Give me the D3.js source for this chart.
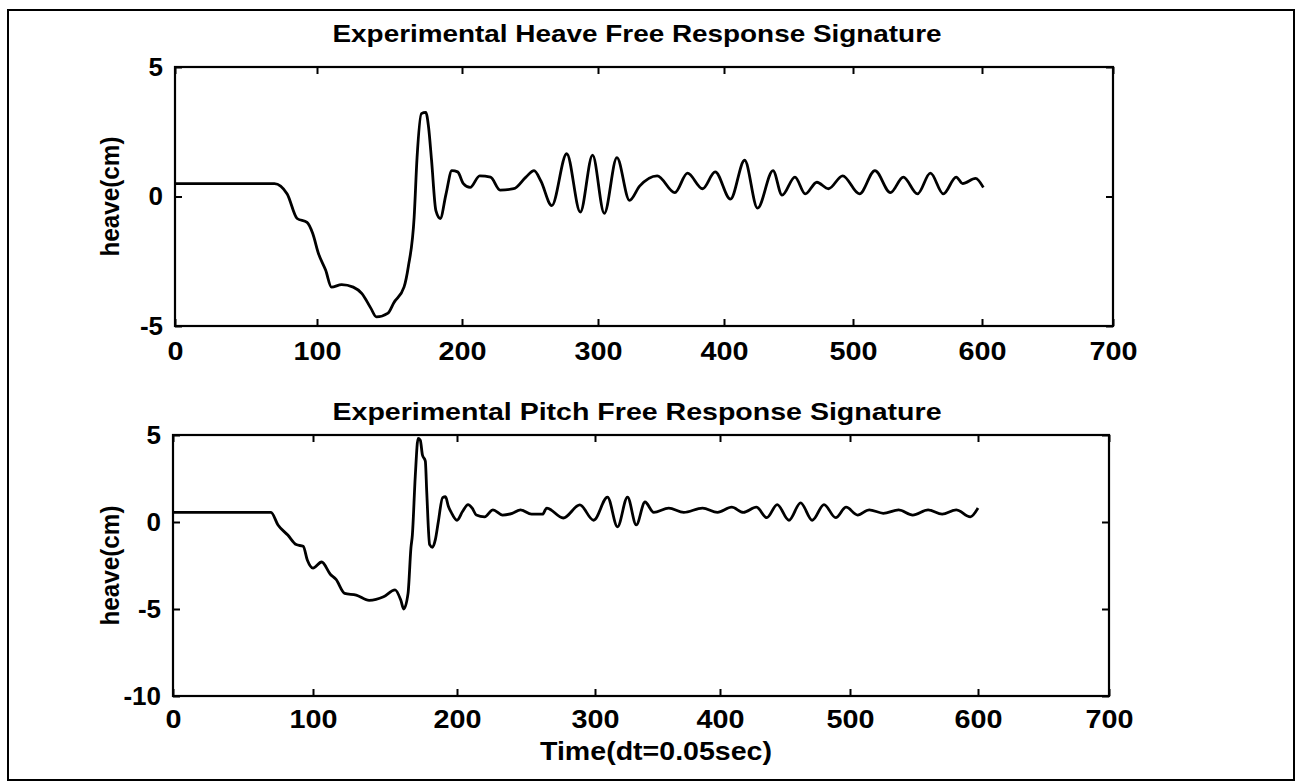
<!DOCTYPE html>
<html>
<head>
<meta charset="utf-8">
<script src="https://cdn.jsdelivr.net/npm/d3@7"></script>
<style>
  html, body { margin: 0; padding: 0; background: #fff; }
  svg { display: block; }
  text { font-family: "Liberation Sans", Arial, sans-serif; fill: #000; }
</style>
</head>
<body>
<svg id="chart" width="1306" height="783"></svg>
<script>
// ---- data ----
const heaveTime = [0,70,79,86,93,97,101,106,110,117,125,131,137,141,149,153,160,163,167,169,172,175,177,179,182,185,189,193,197,201,206,213,221,228,238,247,253,258,266,277,287,296,305,315,325,333,347,361,371,383,393,405,416,426,438,445,455,463,472,481,492,505,517,529,539,550,560,570,580,585,595,601];
const heaveValues = [0.5,0.5,0.1,-0.85,-1.0,-1.43,-2.2,-2.85,-3.5,-3.4,-3.5,-3.75,-4.3,-4.65,-4.5,-4.1,-3.5,-2.7,-0.8,1.5,3.2,3.25,2.65,1.4,-0.55,-0.85,0.1,1.0,0.95,0.5,0.35,0.8,0.75,0.25,0.3,0.75,1.0,0.6,-0.35,1.65,-0.6,1.6,-0.65,1.5,-0.15,0.4,0.8,0.15,0.9,0.3,0.95,-0.1,1.4,-0.45,1.0,0.05,0.75,0.1,0.55,0.3,0.8,0.1,1.0,0.15,0.75,0.1,0.9,0.1,0.75,0.5,0.7,0.35];

const pitchTime = [0,70,75,82,88,93,96,100,106,112,116,122,130,139,149,157,161,163,166,168,169,171,173,174.5,176,178,179,181,183,185,187,190,192,194,196,200,204,208,211,214,220,226,233,240,246,254,262,265,277,289,299,310,318,326,333,340,347,359,371,386,398,409,418,428,436,444,453,462,471,480,489,497,506,515,526,538,549,561,572,583,594,600];
const pitchValues = [0.55,0.55,-0.17,-0.75,-1.3,-1.4,-2.2,-2.65,-2.3,-3.0,-3.3,-4.1,-4.2,-4.5,-4.3,-3.9,-4.5,-5.0,-4.1,-1.5,-0.75,2.6,4.8,4.7,3.85,3.5,1.7,-1.3,-1.45,-1.0,0.0,1.4,1.45,0.9,0.55,0.1,0.6,1.0,0.8,0.4,0.3,0.7,0.4,0.5,0.7,0.45,0.45,0.8,0.23,0.98,0.1,1.43,-0.28,1.43,-0.17,1.15,0.55,0.8,0.55,0.8,0.55,0.85,0.55,0.85,0.25,1.0,0.1,1.1,0.1,1.0,0.25,0.85,0.4,0.7,0.5,0.7,0.4,0.7,0.45,0.7,0.3,0.8];

const xTicks = [0,100,200,300,400,500,600,700];
const heaveYTicks = [-5,0,5];
const pitchYTicks = [-10,-5,0,5];
const titles = ["Experimental Heave Free Response Signature", "Experimental Pitch Free Response Signature"];
const yLabel = "heave(cm)";
const xLabel = "Time(dt=0.05sec)";

// ---- layout ----
const svg = d3.select("#chart");
const FONT = "'Liberation Sans', Arial, sans-serif";

svg.append("rect").attr("x", 8).attr("y", 10).attr("width", 1286).attr("height", 770)
  .attr("fill", "none").attr("stroke", "#000").attr("stroke-width", 2);

// the scanned original has slightly uneven tick spacing; the x scale follows it
const panels = [
  { t: heaveTime, v: heaveValues, yDomain: [-5, 5], yTicks: heaveYTicks,
    xRange: [175, 317, 462, 598, 724, 853, 982, 1113], top: 67, bottom: 326, title: titles[0], titleY: 42, pad: 16 },
  { t: pitchTime, v: pitchValues, yDomain: [-10, 5], yTicks: pitchYTicks,
    xRange: [173, 313, 457, 595, 720, 850, 978, 1109], top: 435, bottom: 696, title: titles[1], titleY: 420, pad: 14 }
];

panels.forEach((p, i) => {
  const x = d3.scaleLinear().domain(xTicks).range(p.xRange);
  const y = d3.scaleLinear().domain(p.yDomain).range([p.bottom, p.top]);
  const left = x(0), right = x(700);
  const g = svg.append("g");

  // line
  const pts = p.t.map((d, k) => [d, p.v[k]]);
  g.append("path").datum(pts)
    .attr("fill", "none").attr("stroke", "#000").attr("stroke-width", 2.8)
    .attr("stroke-linejoin", "round")
    .attr("d", d3.line().curve(d3.curveMonotoneX).x(d => x(d[0])).y(d => y(d[1])));

  const fmt = d => String(d);
  // axes
  const bottomAx = g.append("g").attr("transform", `translate(0,${p.bottom})`)
    .call(d3.axisBottom(x).tickValues(xTicks).tickSizeInner(-7).tickSizeOuter(0).tickPadding(p.pad).tickFormat(fmt));
  const topAx = g.append("g").attr("transform", `translate(0,${p.top})`)
    .call(d3.axisTop(x).tickValues(xTicks).tickSizeInner(-7).tickSizeOuter(0).tickFormat(""));
  const leftAx = g.append("g").attr("transform", `translate(${left},0)`)
    .call(d3.axisLeft(y).tickValues(p.yTicks).tickSizeInner(-7).tickSizeOuter(0).tickPadding(12).tickFormat(fmt));
  const rightAx = g.append("g").attr("transform", `translate(${right},0)`)
    .call(d3.axisRight(y).tickValues(p.yTicks).tickSizeInner(-7).tickSizeOuter(0).tickFormat(""));

  [bottomAx, topAx, leftAx, rightAx].forEach(a => {
    a.select(".domain").remove();
    a.selectAll(".tick line").attr("stroke", "#000").attr("stroke-width", 2);
    a.selectAll("text").attr("font-size", 26).attr("font-weight", "bold")
      .attr("font-family", FONT).attr("fill", "#000");
  });
  bottomAx.selectAll("text").attr("textLength", function () { return this.textContent.length * 16; })
    .attr("lengthAdjust", "spacingAndGlyphs");

  // box
  g.append("rect").attr("x", left).attr("y", p.top)
    .attr("width", right - left).attr("height", p.bottom - p.top)
    .attr("fill", "none").attr("stroke", "#000").attr("stroke-width", 2.2);

  // title
  svg.append("text").attr("x", 637).attr("y", p.titleY).attr("text-anchor", "middle")
    .attr("font-size", 24).attr("font-weight", "bold")
    .attr("textLength", 609).attr("lengthAdjust", "spacingAndGlyphs")
    .text(p.title);

  // y label
  const cy = (p.top + p.bottom) / 2;
  svg.append("text").attr("transform", `translate(119,${cy}) rotate(-90)`)
    .attr("text-anchor", "middle").attr("font-size", 25).attr("font-weight", "bold")
    .attr("textLength", 120).attr("lengthAdjust", "spacingAndGlyphs")
    .text(yLabel);
});

svg.append("text").attr("x", 656).attr("y", 760).attr("text-anchor", "middle")
  .attr("font-size", 25).attr("font-weight", "bold")
  .attr("textLength", 232).attr("lengthAdjust", "spacingAndGlyphs")
  .text(xLabel);
</script>
</body>
</html>
